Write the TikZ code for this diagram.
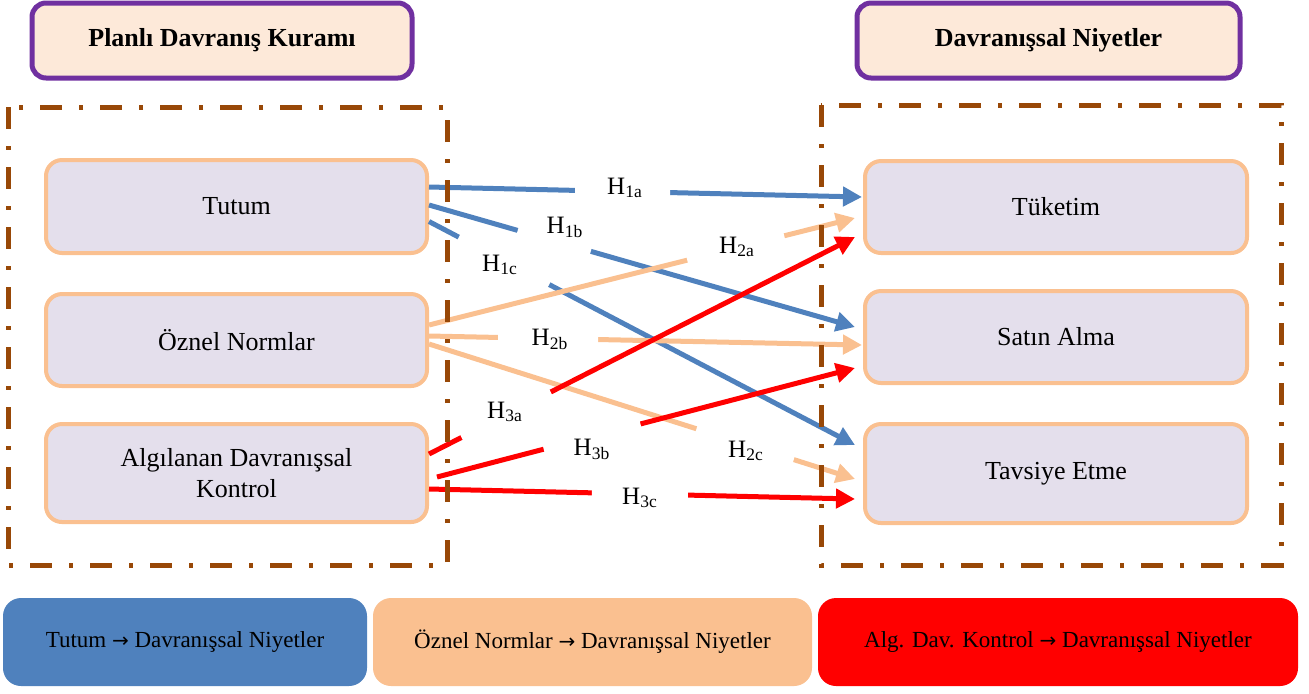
\documentclass[tikz,border=0pt]{standalone}
\usepackage{fontspec}
\setmainfont{Liberation Serif}
\newfontfamily\arrowfont{DejaVu Sans}
\usetikzlibrary{arrows.meta}
\usetikzlibrary{calc}

\definecolor{tdblue}{HTML}{4F81BD}
\definecolor{tdpeach}{HTML}{FAC090}
\definecolor{tdred}{HTML}{FF0000}
\definecolor{tdpurple}{HTML}{7030A0}
\definecolor{tdcream}{HTML}{FDE9D9}
\definecolor{tdlilac}{HTML}{E4DFEC}
\definecolor{tdbrown}{HTML}{984807}

\newcommand{\legarrow}{{\arrowfont\fontsize{10}{12}\selectfont →}}

\begin{document}
\begin{tikzpicture}[x=0.5pt, y=-0.5pt,
    titlebox/.style={draw=tdpurple, line width=2.5pt, fill=tdcream, rounded corners=7pt, minimum height=37.5pt, font=\fontsize{13}{15}\selectfont\bfseries},
    itembox/.style={draw=tdpeach, line width=2pt, fill=tdlilac, rounded corners=8pt, align=center, font=\fontsize{13}{15.5}\selectfont},
    legendbox/.style={rounded corners=9pt, minimum height=44pt, font=\fontsize{11.5}{13}\selectfont},
    dashframe/.style={draw=tdbrown, line width=2.5pt, dash pattern=on 11pt off 8.5pt on 2pt off 8.5pt},
    link/.style={line width=2.5pt, -{Triangle[length=9.5pt,width=9.5pt]}},
    gapmask/.style={fill=white, inner sep=0pt, sloped, minimum height=5pt},
    hyplabel/.style={inner sep=1pt, font=\fontsize{12.5}{14}\selectfont}
]
    \useasboundingbox (0,0) rectangle (1309,693);

    % Titles
    \node[titlebox, minimum width=190pt] (kuram) at (222,40.5) {Planlı Davranış Kuramı};
    \node[titlebox, minimum width=191.5pt] (niyet) at (1048.5,40.5) {Davranışsal Niyetler};

    % Left boxes
    \node[itembox, minimum width=190.5pt, minimum height=46.5pt] (tutum) at (236.5,206.5) {Tutum};
    \node[itembox, minimum width=190.5pt, minimum height=46pt] (oznel) at (236.5,340) {Öznel Normlar};
    \node[itembox, minimum width=190.5pt, minimum height=49pt] (algi) at (236.5,473) {Algılanan Davranışsal\\Kontrol};

    % Right boxes
    \node[itembox, minimum width=191pt, minimum height=46pt] (tuketim) at (1056,207) {Tüketim};
    \node[itembox, minimum width=191pt, minimum height=46pt] (satin) at (1056,337) {Satın Alma};
    \node[itembox, minimum width=191pt, minimum height=49.5pt] (tavsiye) at (1056,473.5) {Tavsiye Etme};

    % H1
    \draw[link, tdblue] ($(tutum.east)+(0,-19.5)$) -- node[gapmask, pos=0.447, minimum width=47.5pt] {} ($(tuketim.west)+(-1,-10)$);
    \draw[link, tdblue] ($(tutum.east)+(0,-1.5)$) -- node[gapmask, pos=0.294, minimum width=38pt] {} ($(satin.west)+(-8,-10)$);
    \draw[link, tdblue] ($(tutum.east)+(0,15)$) -- node[gapmask, pos=0.176, minimum width=51pt] {} ($(tavsiye.west)+(-8,-28.5)$);

    % H2
    \draw[link, tdpeach] ($(oznel.east)+(0,-15)$) -- node[gapmask, pos=0.72, minimum width=50pt] {} ($(tuketim.west)+(-8,11)$);
    \draw[link, tdpeach] ($(oznel.east)+(0,-4)$) -- node[gapmask, pos=0.275, minimum width=50pt] {} ($(satin.west)+(-1,8)$);
    \draw[link, tdpeach] ($(oznel.east)+(0,4)$) -- node[gapmask, pos=0.742, minimum width=51pt] {} ($(tavsiye.west)+(-8,5.5)$);

    % H3
    \draw[link, tdred] ($(algi.east)+(0,-19)$) -- node[gapmask, pos=0.181, minimum width=50pt] {} ($(tuketim.west)+(-8,30)$);
    \draw[link, tdred] ($(algi.east)+(8,4)$) -- node[gapmask, pos=0.371, minimum width=50pt] {} ($(satin.west)+(-8,31)$);
    \draw[link, tdred] ($(algi.east)+(0,16)$) -- node[gapmask, pos=0.495, minimum width=48pt] {} ($(tavsiye.west)+(-8,25.5)$);

    % Labels
    \node[hyplabel] (h1a) at (625,188) {H\textsubscript{1a}};
    \node[hyplabel] (h1b) at (565,227) {H\textsubscript{1b}};
    \node[hyplabel] (h1c) at (500,265) {H\textsubscript{1c}};
    \node[hyplabel] (h2a) at (737,247) {H\textsubscript{2a}};
    \node[hyplabel] (h2b) at (550,339) {H\textsubscript{2b}};
    \node[hyplabel] (h2c) at (746,451) {H\textsubscript{2c}};
    \node[hyplabel] (h3a) at (505,412) {H\textsubscript{3a}};
    \node[hyplabel] (h3b) at (592,449) {H\textsubscript{3b}};
    \node[hyplabel] (h3c) at (640,498) {H\textsubscript{3c}};

    % Frames
    \draw[dashframe] (8,107) rectangle (447,565);
    \draw[dashframe] (821,105) rectangle (1281,565);

    % Legend
    \node[legendbox, fill=tdblue, minimum width=182pt] (legtutum) at (185,642) {Tutum \legarrow{} Davranışsal Niyetler};
    \node[legendbox, fill=tdpeach, minimum width=219.5pt] (legoznel) at (592.5,642) {Öznel Normlar \legarrow{} Davranışsal Niyetler};
    \node[legendbox, fill=tdred, minimum width=240pt] (legalgi) at (1058,642) {Alg. Dav. Kontrol \legarrow{} Davranışsal Niyetler};
\end{tikzpicture}
\end{document}
